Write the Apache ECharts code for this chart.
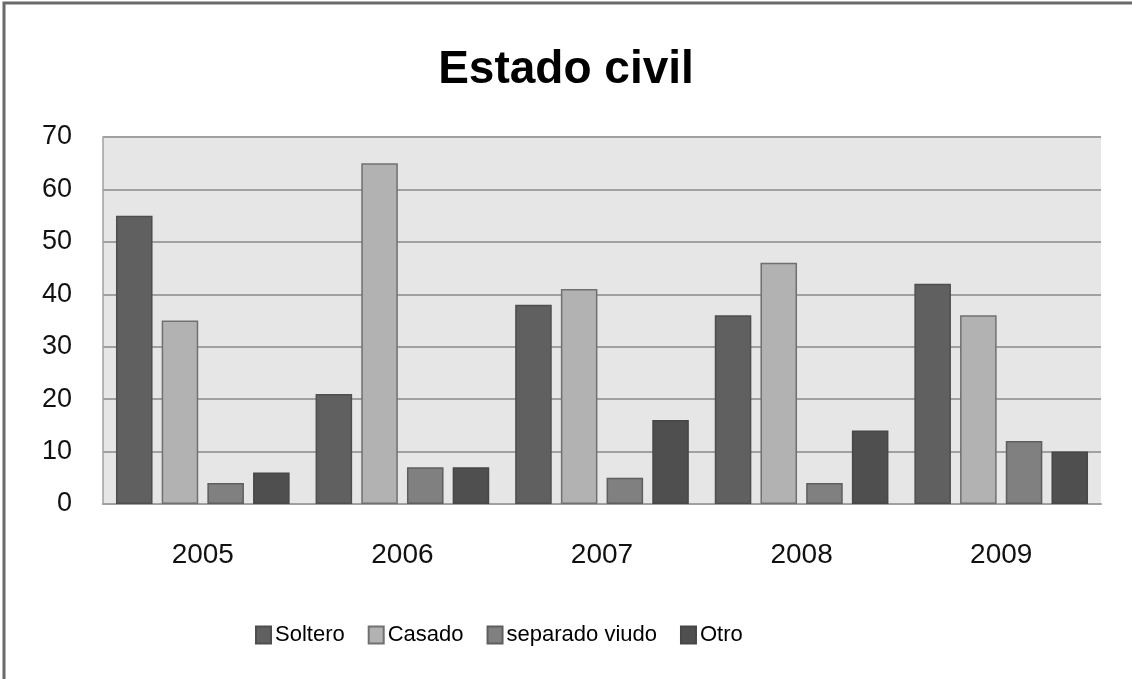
<!DOCTYPE html>
<html>
<head>
<meta charset="utf-8">
<script src="https://cdn.jsdelivr.net/npm/echarts@6/dist/echarts.min.js"></script>
<style>
  html, body { margin: 0; padding: 0; background: #fff; }
  #main { width: 1132px; height: 679px; }
</style>
</head>
<body>
<div id="main"></div>
<script>
// 数据
var years = ['2005', '2006', '2007', '2008', '2009'];
var soltero = [55, 21, 38, 36, 42];
var casado = [35, 65, 41, 46, 36];
var separadoViudo = [4, 7, 5, 4, 12];
var otro = [6, 7, 16, 14, 10];
var yTicks = [0, 10, 20, 30, 40, 50, 60, 70];

var myChart = echarts.init(document.getElementById('main'));

function barSerie(name, data, fill, border) {
    return {
        name: name,
        type: 'bar',
        data: data,
        barGap: '25%',
        barCategoryGap: '13%',
        itemStyle: { color: fill, borderColor: border, borderWidth: 1.5 },
        emphasis: { disabled: true }
    };
}

option = {
    animation: false,
    backgroundColor: '#fff',
    title: {
        text: 'Estado civil',
        left: 'center',
        top: 42,
        textStyle: {
            fontFamily: '"Liberation Sans", sans-serif',
            fontSize: 46,
            fontWeight: 'bold',
            color: '#000'
        }
    },
    graphic: [{
        type: 'rect',
        shape: { x: 4, y: 3, width: 1200, height: 800 },
        style: { fill: 'none', stroke: '#6a6a6a', lineWidth: 3 },
        silent: true
    }],
    legend: {
        left: 250,
        top: 619,
        itemWidth: 15,
        itemHeight: 17,
        itemGap: 23,
        icon: 'rect',
        textStyle: {
            fontFamily: '"Liberation Sans", sans-serif',
            fontSize: 22,
            color: '#000',
            padding: [0, 0, 0, -1]
        },
        data: ['Soltero', 'Casado', 'separado viudo', 'Otro']
    },
    grid: {
        left: 103,
        right: 31,
        top: 137,
        bottom: 175,
        show: true,
        backgroundColor: '#e6e6e6',
        borderWidth: 0
    },
    xAxis: {
        type: 'category',
        data: years,
        axisLine: { show: true, lineStyle: { color: '#a0a0a0', width: 2 } },
        axisTick: { show: false },
        axisLabel: {
            margin: 37,
            fontFamily: '"Liberation Sans", sans-serif',
            fontSize: 28,
            color: '#111'
        }
    },
    yAxis: {
        type: 'value',
        min: yTicks[0],
        max: yTicks[yTicks.length - 1],
        interval: 10,
        axisLine: { show: true, lineStyle: { color: '#a0a0a0', width: 1.5 } },
        axisTick: { show: false },
        splitLine: { show: true, lineStyle: { color: '#a0a0a0', width: 2 } },
        axisLabel: {
            margin: 31,
            fontFamily: '"Liberation Sans", sans-serif',
            fontSize: 27,
            color: '#111'
        }
    },
    series: [
        barSerie('Soltero', soltero, '#606060', '#4e4e4e'),
        barSerie('Casado', casado, '#b2b2b2', '#707070'),
        barSerie('separado viudo', separadoViudo, '#808080', '#5e5e5e'),
        barSerie('Otro', otro, '#4f4f4f', '#474747')
    ]
};

if (option && typeof option === "object") {
    myChart.setOption(option, true);
}
</script>
</body>
</html>
